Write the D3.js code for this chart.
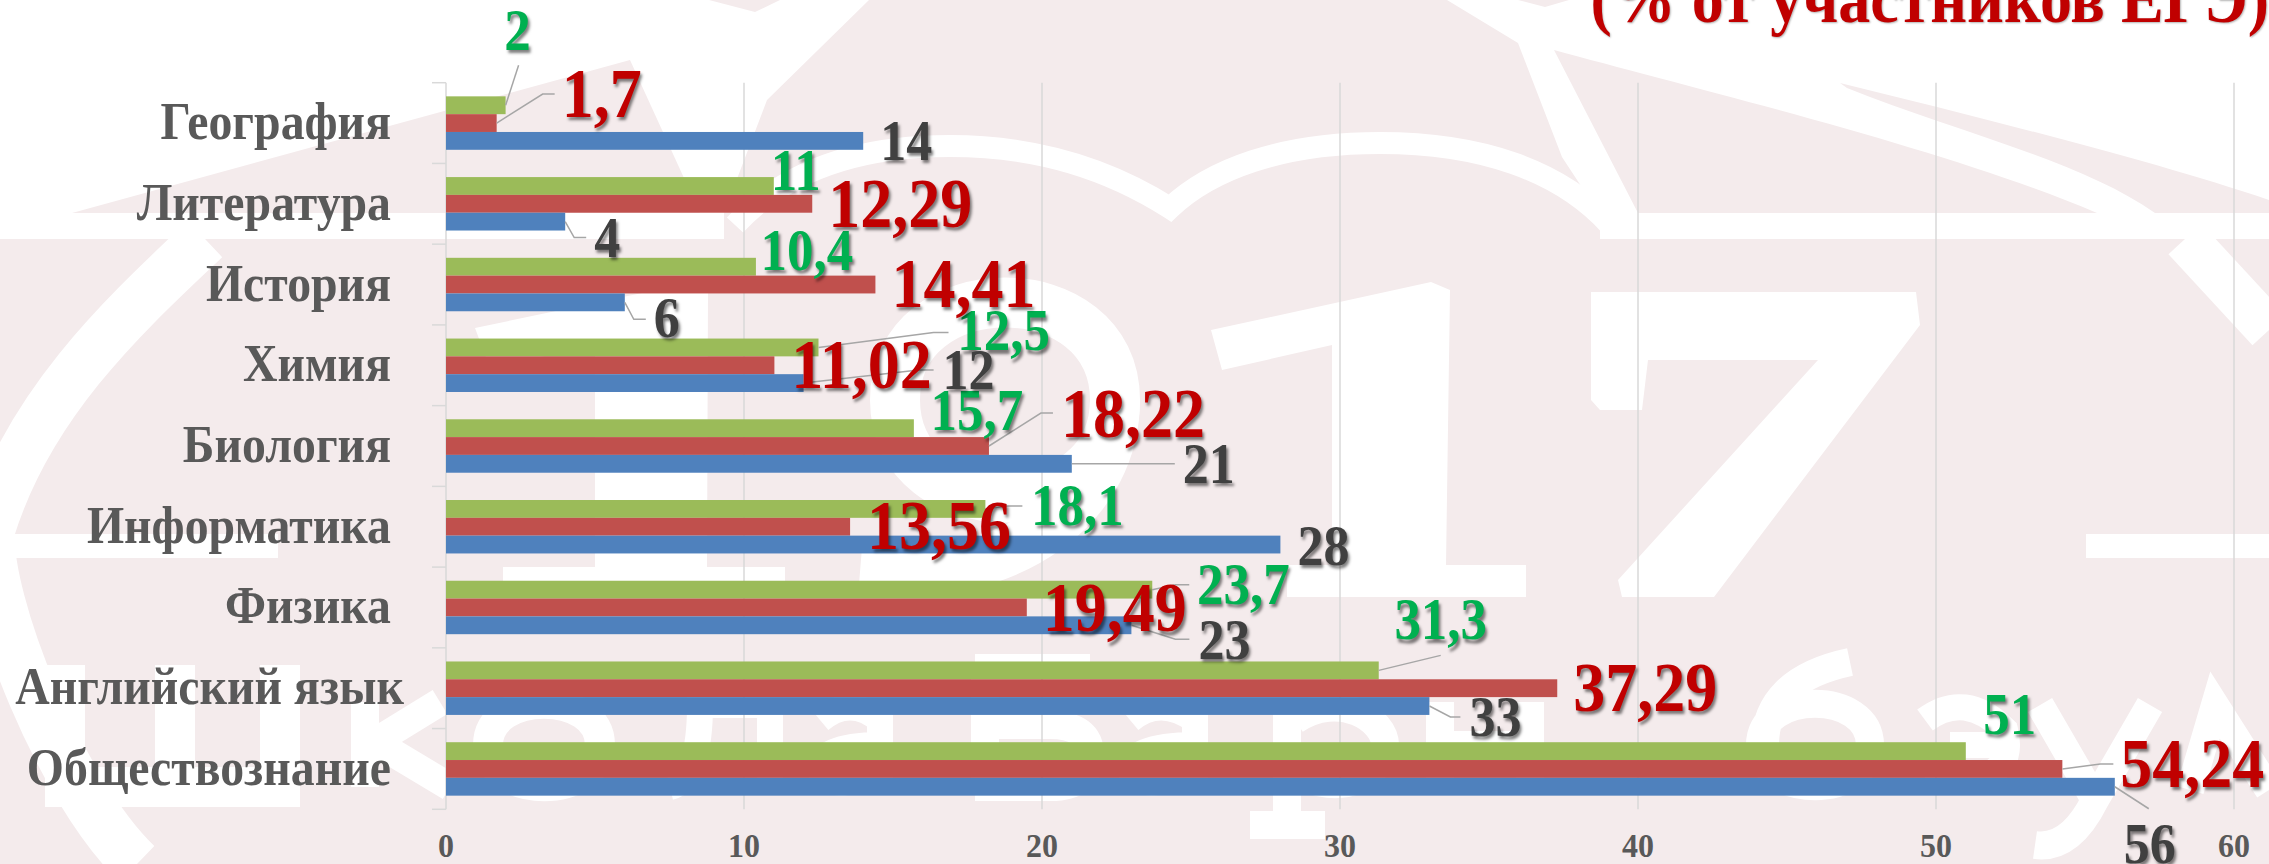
<!DOCTYPE html>
<html>
<head>
<meta charset="utf-8">
<script src="https://cdn.jsdelivr.net/npm/d3@7"></script>
<style>
  html, body { margin: 0; padding: 0; background: #fff; }
  svg { display: block; }
  text { font-family: "Liberation Serif", serif; font-weight: bold; }
  .cat { font-size: 47.8px; fill: #595959; }
  .tick-x { font-size: 32px; fill: #595959; }
  .val { text-shadow: 2px 3px 3px rgba(0,0,0,.5); }
</style>
</head>
<body>
<div id="chart"></div>
<script>
var categories = ["География", "Литература", "История", "Химия", "Биология", "Информатика", "Физика", "Английский язык", "Обществознание"];
var greenValues = [2, 11, 10.4, 12.5, 15.7, 18.1, 23.7, 31.3, 51];
var redValues = [1.7, 12.29, 14.41, 11.02, 18.22, 13.56, 19.49, 37.29, 54.24];
var blueValues = [14, 4, 6, 12, 21, 28, 23, 33, 56];
var xTicks = [0, 10, 20, 30, 40, 50, 60];
var seriesNames = ["green", "red", "blue"];

// hand placed labels, as [dx, dy] from the bar end
var greenPlace = [[12, -55], [22, 4], [51, 3], [185, 3], [63, 2], [92, 16], [91, 14], [62, -31], [44, -17]];
var redPlace = [[105, -6], [88, 23], [88, 22], [87, 23], [144, -9], [89, 22], [88, 24], [88, 23], [130, 18]];
var bluePlace = [[43, 19], [42, 35], [42, 35], [165, 6], [137, 19], [43, 20], [93, 34], [66, 30], [35, 76]];

// leader lines, same offsets, null where the label has none
var greenLead = [[[13, -40]], null, null, [[115, -15], [130, -15]], null, [[21, -3], [37, -3]], [[23, -5], [37, -5]], [[62, -15]], null];
var redLead = [[[46, -29], [58, -29]], null, null, null, [[52, -33], [64, -33]], null, null, null, [[38, -5], [51, -5]]];
var blueLead = [null, [[9, 16], [21, 16]], [[9, 17], [21, 17]], [[115, -13], [130, -13]], [[103, 0]], null, [[44, 14], [58, 14]], [[21, 11], [31, 11]], [[34, 22]]];

var width = 2269;
var height = 864;
var plotLeft = 446;
var plotRight = 2234;
var plotTop = 82.7;
var plotBottom = 809.3;

var barColor = { green: "#9bbb59", red: "#c0504d", blue: "#4f81bd" };
var valColor = { green: "#00b050", red: "#c00000", blue: "#404040" };
var seriesData = { green: greenValues, red: redValues, blue: blueValues };
var seriesPlace = { green: greenPlace, red: redPlace, blue: bluePlace };
var seriesLead = { green: greenLead, red: redLead, blue: blueLead };

var svg = d3.select("#chart").append("svg")
    .attr("width", width)
    .attr("height", height)
    .attr("viewBox", "0 0 " + width + " " + height);

// watermark behind the chart, a logo with 1917 and big pale letters
var bg = svg.append("g").attr("class", "watermark");
var pink = "#f4ebec";
var pinkShapes = [
    "M72,213 L630,60 L700,213 Z",
    "M709,0 L780,0 L755,12 Z",
    "M1518,0 L1569,0 L1545,7 Z",
    "M724,239 L724,213 L767,100 L869,0 L1447,0 L1518,43 L1562,157 L1600,215 L1600,239 Z",
    "M1554,50 C1700,90 1950,150 2097,213 L1638,213 Z",
    "M1840,83 C1990,120 2150,160 2269,200 L2269,213 L2155,213 C2080,160 1950,130 1847,88 Z",
    "M0,239 L2269,239 L2269,864 L0,864 Z"
];
var whiteFills = [
    "M475,328 L690,283 L708,290 L707,567 L785,567 L785,597 L503,597 L503,567 L595,567 L595,345 L490,368 Z",
    "M1211,330 L1431,282 L1450,290 L1446,565 L1526,565 L1526,597 L1287,597 L1287,565 L1332,565 L1332,345 L1222,370 Z",
    "M1591,292 L1916,292 L1920,325 L1714,597 L1622,597 L1618,580 L1818,360 L1648,360 L1642,410 L1600,410 L1591,400 Z",
    "M0,534 L278,534 L278,558 L0,558 Z",
    "M2086,534 L2269,534 L2269,558 L2086,558 Z"
];
var whiteStrokes = [
    { w: 22, d: "M735,225 C790,165 870,146 950,146 C1040,146 1110,170 1170,208 C1210,170 1280,143 1380,143 C1480,143 1560,170 1610,225" },
    { w: 50, d: "M205,239 C130,310 30,400 -10,530 C-15,600 60,790 137,864" },
    { w: 45, d: "M2185,239 L2269,330" },
    // the 9
    { w: 50, d: "M895,400 C895,270 1115,270 1115,400 C1115,530 895,530 895,400" },
    { w: 50, d: "M1115,400 C1115,500 1020,585 860,572" },
    // letters of the bottom line
    { w: 40, d: "M65,665 V787 H280 V665 M175,665 V787" },
    { w: 28, d: "M365,702 V787 M370,745 L440,702 M380,745 L450,787" },
    { w: 30, d: "M488,745 C488,690 600,690 600,745 C600,800 488,800 488,745" },
    { w: 26, d: "M770,702 V787 M770,705 L700,705 Q700,780 670,787" },
    { w: 26, d: "M820,720 Q850,695 880,720 V787 M880,745 Q820,745 820,770 Q830,795 880,770" },
    { w: 28, d: "M985,665 V787 M975,668 H1090 M985,725 H1050 Q1090,725 1090,755 Q1090,787 1050,787 H975" },
    { w: 26, d: "M1130,720 Q1160,695 1195,720 V787 M1195,745 Q1130,745 1130,770 Q1140,795 1195,770" },
    { w: 28, d: "M1287,702 V825 M1250,825 H1325 M1295,720 C1340,690 1385,720 1385,745 C1385,775 1340,800 1295,772" },
    { w: 28, d: "M1440,702 V787 M1530,702 V787 M1440,745 H1530" },
    { w: 28, d: "M1760,745 C1760,690 1870,690 1870,745 C1870,800 1760,800 1760,745 M1765,745 Q1765,680 1850,662" },
    { w: 26, d: "M1925,720 Q1965,690 2005,730 Q2020,790 1925,780 M1950,745 H2005" },
    { w: 28, d: "M2040,705 L2095,800 M2150,705 L2095,800 Q2070,850 2035,845" },
    { w: 28, d: "M2190,790 L2215,705 L2269,790" }
];
pinkShapes.forEach(function (d) { bg.append("path").attr("d", d).attr("fill", pink); });
whiteFills.forEach(function (d) { bg.append("path").attr("d", d).attr("fill", "#fff"); });
whiteStrokes.forEach(function (s) {
    bg.append("path").attr("d", s.d).attr("fill", "none").attr("stroke", "#fff").attr("stroke-width", s.w);
});

var x = d3.scaleLinear()
    .domain([0, 60])
    .range([plotLeft, plotRight]);

var y = d3.scaleBand()
    .domain(categories)
    .range([plotTop, plotBottom])
    .paddingInner(0.338)
    .paddingOuter(0.169);

var ySeries = d3.scaleBand()
    .domain(seriesNames)
    .range([0, y.bandwidth()]);

// the source text is a bit stretched in height
function placed(sel, fx, fy, k) {
    sel.attr("transform", function (d, i) {
        return "translate(" + fx(d, i) + "," + fy(d, i) + ") scale(1," + k + ")";
    });
}

// grid
svg.append("g").selectAll("line")
    .data(xTicks)
    .enter().append("line")
    .attr("x1", function (d) { return x(d); })
    .attr("x2", function (d) { return x(d); })
    .attr("y1", plotTop)
    .attr("y2", plotBottom)
    .attr("stroke", "#d9d9d9")
    .attr("stroke-width", 1.5);

// category ticks on the left of the axis
var tickStep = y.step();
svg.append("g").selectAll("line")
    .data(d3.range(categories.length + 1))
    .enter().append("line")
    .attr("x1", plotLeft - 14)
    .attr("x2", plotLeft)
    .attr("y1", function (d) { return plotTop + d * tickStep; })
    .attr("y2", function (d) { return plotTop + d * tickStep; })
    .attr("stroke", "#d9d9d9")
    .attr("stroke-width", 1.5);

svg.append("g").selectAll("text")
    .data(xTicks)
    .enter().append("text")
    .attr("class", "tick-x")
    .attr("text-anchor", "middle")
    .text(function (d) { return d; })
    .call(placed, function (d) { return x(d); }, function () { return 857; }, 1.08);

svg.append("g").selectAll("text")
    .data(categories)
    .enter().append("text")
    .attr("class", "cat")
    .attr("text-anchor", "end")
    .text(function (d) { return d; })
    .call(placed,
        function (d) { return d === "Английский язык" ? 404 : 391; },
        function (d) { return y(d) + y.bandwidth() / 2 + 16; },
        1.12);

// bars
seriesNames.forEach(function (name) {
    svg.append("g").selectAll("rect")
        .data(seriesData[name])
        .enter().append("rect")
        .attr("x", x(0))
        .attr("y", function (d, i) { return y(categories[i]) + ySeries(name); })
        .attr("width", function (d) { return x(d) - x(0); })
        .attr("height", ySeries.bandwidth())
        .attr("fill", barColor[name]);
});

// leader lines then value labels
var fontSize = { green: 53, red: 64, blue: 52 };
var line = d3.line();
seriesNames.forEach(function (name) {
    var cy = function (i) { return y(categories[i]) + ySeries(name) + ySeries.bandwidth() / 2; };
    seriesData[name].forEach(function (v, i) {
        var lead = seriesLead[name][i];
        if (lead) {
            var pts = [[x(v), cy(i)]].concat(lead.map(function (p) { return [x(v) + p[0], cy(i) + p[1]]; }));
            svg.append("path")
                .attr("d", line(pts))
                .attr("fill", "none")
                .attr("stroke", "#a6a6a6")
                .attr("stroke-width", 1.5);
        }
    });
});
seriesNames.forEach(function (name) {
    var cy = function (i) { return y(categories[i]) + ySeries(name) + ySeries.bandwidth() / 2; };
    svg.append("g").selectAll("text")
        .data(seriesData[name])
        .enter().append("text")
        .attr("class", "val")
        .attr("text-anchor", "middle")
        .attr("font-size", fontSize[name])
        .attr("fill", valColor[name])
        .text(function (d) { return String(d).replace(".", ","); })
        .call(placed,
            function (d, i) { return x(d) + seriesPlace[name][i][0]; },
            function (d, i) { return cy(i) + seriesPlace[name][i][1]; },
            1.1);
});

svg.append("text")
    .attr("text-anchor", "end")
    .attr("font-size", 64)
    .attr("fill", "#c00000")
    .attr("transform", "translate(2269,22) scale(1,1.1)")
    .style("text-shadow", "1px 1px 2px rgba(0,0,0,.3)")
    .text("(% от участников ЕГЭ)");
</script>
</body>
</html>
